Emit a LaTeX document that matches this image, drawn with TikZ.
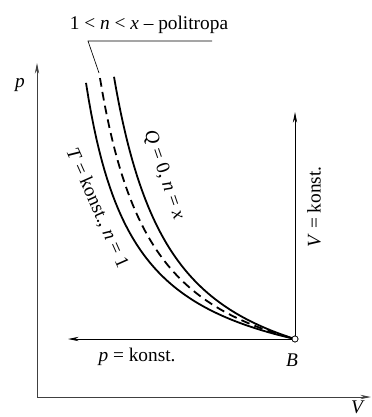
\documentclass[tikz,border=0pt]{standalone}
\usepackage{fontspec}
\setmainfont{Liberation Serif}
\usetikzlibrary{arrows.meta}
\begin{document}
\begin{tikzpicture}[x=0.75pt,y=-0.75pt,
  lbl/.style={font=\fontsize{14.5}{16}\selectfont, inner sep=0pt},
  axis/.style={draw=black!75, line width=0.6pt},
  curve/.style={line width=1.35pt},
  thinarrow/.style={line width=0.6pt, -{Stealth[length=8pt,width=3.2pt]}}]
\useasboundingbox (0,0) rectangle (371,417);
% axes
\coordinate (O) at (37,397);
\coordinate (ptop) at (37,63);
\coordinate (vright) at (371,397);
\draw[axis, -{Stealth[length=8pt,width=3.2pt]}] (O) -- (ptop);
\draw[axis, -{Stealth[length=8pt,width=3.2pt]}] (O) -- (vright);
\node[lbl] (plab) at (20,85) {\textit{p}};
\node[lbl] (vlab) at (358,407) {\textit{V}};
% curves
\draw[curve] plot[domain=49:258, samples=80] ({37+\x}, {397 - 58*(258/\x)^1.017});
\draw[curve, dash pattern=on 6.5pt off 4pt] plot[domain=63:258, samples=80] ({37+\x}, {397 - 58*(258/\x)^1.209});
\draw[curve] plot[domain=77:258, samples=80] ({37+\x}, {397 - 58*(258/\x)^1.413});
% isochore and isobar
\coordinate (vtip) at (295,112);
\coordinate (ptip) at (68,339);
\node[circle, draw, fill=white, inner sep=0pt, minimum size=4.5pt, line width=0.5pt] (B) at (295,339) {};
\draw[thinarrow] (B) -- (vtip);
\draw[thinarrow] (B) -- (ptip);
\node[circle, draw, fill=white, inner sep=0pt, minimum size=4.5pt, line width=0.5pt] at (295,339) {};
\node[lbl] (Blab) at (292,360) {\textit{B}};
\node[lbl] (isobar) at (137,357) {\textit{p} = konst.};
\node[lbl, rotate=90] (isochore) at (314,207) {\textit{V} = konst.};
\node[lbl, rotate=-66] (iso) at (97,208) {\textit{T} = konst., \textit{n} = 1};
\node[lbl, rotate=-71] (adi) at (164,175) {\textit{Q} = 0, \textit{n} = \textit{x}};
% polytrope label
\node[lbl] (poly) at (149,25) {1 < \textit{n} < \textit{x} – politropa};
\coordinate (u1) at (88,41);
\coordinate (u2) at (212,41);
\coordinate (lead) at (99,73);
\draw[line width=0.5pt] (u2) -- (u1) -- (lead);
\end{tikzpicture}
\end{document}
